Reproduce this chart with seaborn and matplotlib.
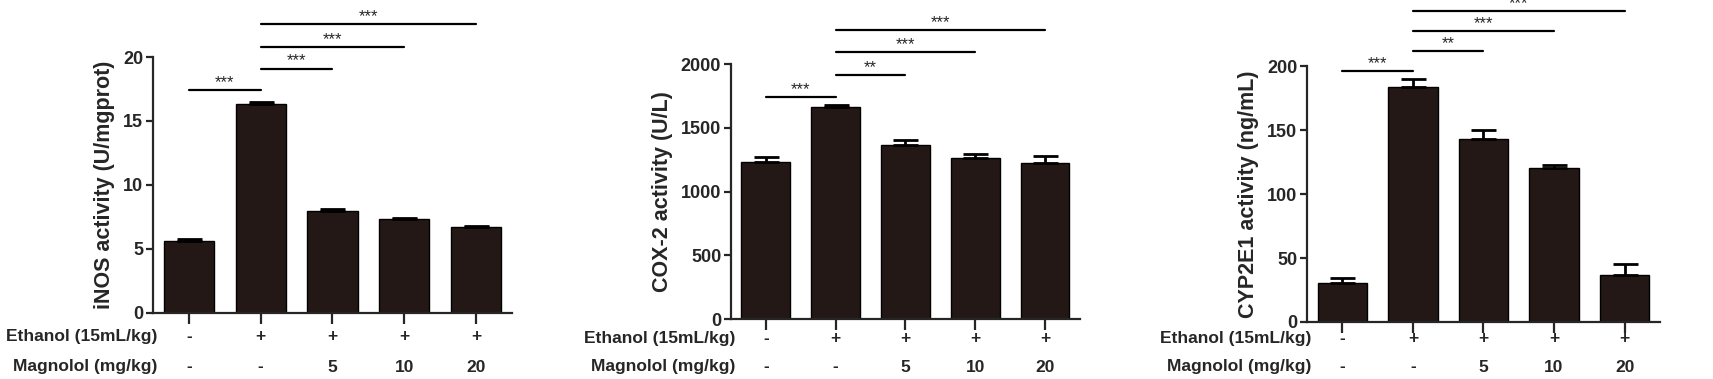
#!/usr/bin/env python3
"""
Ethanol / Magnolol enzyme activity bar charts (iNOS, COX-2, CYP2E1)
GraphPad-style bars with upper error caps and significance brackets.
"""

import matplotlib
matplotlib.use("Agg")
import matplotlib.pyplot as plt
import numpy as np
import pandas as pd
import seaborn as sns

# ─── Data ────────────────────────────────────────────────────────────────────
groups          = ["ctrl", "eth", "mag5", "mag10", "mag20"]
ethanol_labels  = ["-", "+", "+", "+", "+"]
magnolol_labels = ["-", "-", "5", "10", "20"]

inos_mean = [5.62, 16.36, 8.00, 7.35, 6.70]
inos_err  = [0.14, 0.12, 0.14, 0.08, 0.06]
cox2_mean = [1232, 1664, 1363, 1263, 1227]
cox2_err  = [39, 13, 44, 32, 52]
cyp_mean  = [30.8, 183.3, 143.1, 120.5, 37.0]
cyp_err   = [3.9, 6.5, 7.0, 2.6, 8.4]

sig_pairs  = [(0, 1), (1, 2), (1, 3), (1, 4)]
inos_sig_y = [17.4, 19.1, 20.8, 22.6]
cox2_sig_y = [1738, 1913, 2092, 2267]
cyp_sig_y  = [196.4, 212.0, 227.6, 243.0]
inos_stars = ["***", "***", "***", "***"]
cox2_stars = ["***", "**", "***", "***"]
cyp_stars  = ["***", "**", "***", "***"]

BAR_COLOR = "#231815"

sns.set_style("ticks")
plt.rcParams["font.family"] = ["Liberation Sans", "DejaVu Sans"]
plt.rcParams["font.weight"] = "bold"

W, H = 1713, 379
fig = plt.figure(figsize=(W / 100, H / 100), dpi=100)

# rect in figure fraction; row_y = pixel rows (from top) of the treatment labels
panels = [
    dict(rect=[0.0893, 0.1745, 0.2096, 0.6750], mean=inos_mean, err=inos_err,
         sig_y=inos_sig_y, stars=inos_stars, ylim=20, step=5, row_y=(337, 367),
         ylabel="iNOS activity (U/mgprot)"),
    dict(rect=[0.4267, 0.1575, 0.2037, 0.6735], mean=cox2_mean, err=cox2_err,
         sig_y=cox2_sig_y, stars=cox2_stars, ylim=2000, step=500, row_y=(338, 367),
         ylabel="COX-2 activity (U/L)"),
    dict(rect=[0.7630, 0.1505, 0.2060, 0.6750], mean=cyp_mean, err=cyp_err,
         sig_y=cyp_sig_y, stars=cyp_stars, ylim=200, step=50, row_y=(339, 367),
         ylabel="CYP2E1 activity (ng/mL)"),
]

for p in panels:
    ax = fig.add_axes(p["rect"])
    df = pd.DataFrame({"group": groups, "value": p["mean"]})
    sns.barplot(data=df, x="group", y="value", color=BAR_COLOR, saturation=1,
                width=0.7, edgecolor="black", linewidth=1, errorbar=None, ax=ax)
    x = np.arange(len(groups))
    ax.errorbar(x, p["mean"], yerr=[np.zeros(len(x)), p["err"]], fmt="none",
                ecolor="black", elinewidth=2, capsize=9, capthick=2)

    ax.set_xlim(-0.5, len(groups) - 0.5)
    ax.set_ylim(0, p["ylim"])
    ax.set_yticks(np.arange(0, p["ylim"] + 1, p["step"]))
    ax.set_xticks(x)
    ax.set_xticklabels([])
    ax.set_xlabel("")
    ax.set_ylabel(p["ylabel"], fontsize=15.5, fontweight="bold", labelpad=6)
    sns.despine(ax=ax)
    for s in ["left", "bottom"]:
        ax.spines[s].set_linewidth(1.6)
    ax.tick_params(axis="y", length=5, width=1.6, labelsize=13, pad=2)
    ax.tick_params(axis="x", length=8, width=1.6)
    for lab in ax.get_yticklabels():
        lab.set_fontweight("bold")

    # treatment rows under the axis
    y_eth = 1 - p["row_y"][0] / H
    y_mag = 1 - p["row_y"][1] / H
    for i in x:
        ax.annotate(ethanol_labels[i], xy=(i, y_eth), xycoords=("data", "figure fraction"),
                    ha="center", va="center", fontsize=12.5, fontweight="bold")
        ax.annotate(magnolol_labels[i], xy=(i, y_mag), xycoords=("data", "figure fraction"),
                    ha="center", va="center", fontsize=12.5, fontweight="bold")
    ax.annotate("Ethanol (15mL/kg)", xy=(0, y_eth), xycoords=("axes fraction", "figure fraction"),
                xytext=(3, 0), textcoords="offset points", ha="right",
                va="center", fontsize=12.5, fontweight="bold")
    ax.annotate("Magnolol (mg/kg)", xy=(0, y_mag), xycoords=("axes fraction", "figure fraction"),
                xytext=(3, 0), textcoords="offset points", ha="right",
                va="center", fontsize=12.5, fontweight="bold")

    # significance brackets
    for (a, b), y, st in zip(sig_pairs, p["sig_y"], p["stars"]):
        ax.plot([a, b], [y, y], color="black", lw=1.6, clip_on=False)
        ax.annotate(st, xy=((a + b) / 2, y), xytext=(0, 0), textcoords="offset points",
                    ha="center", va="bottom", fontsize=12, fontweight="normal",
                    annotation_clip=False)

fig.savefig("out.png", dpi=100)
